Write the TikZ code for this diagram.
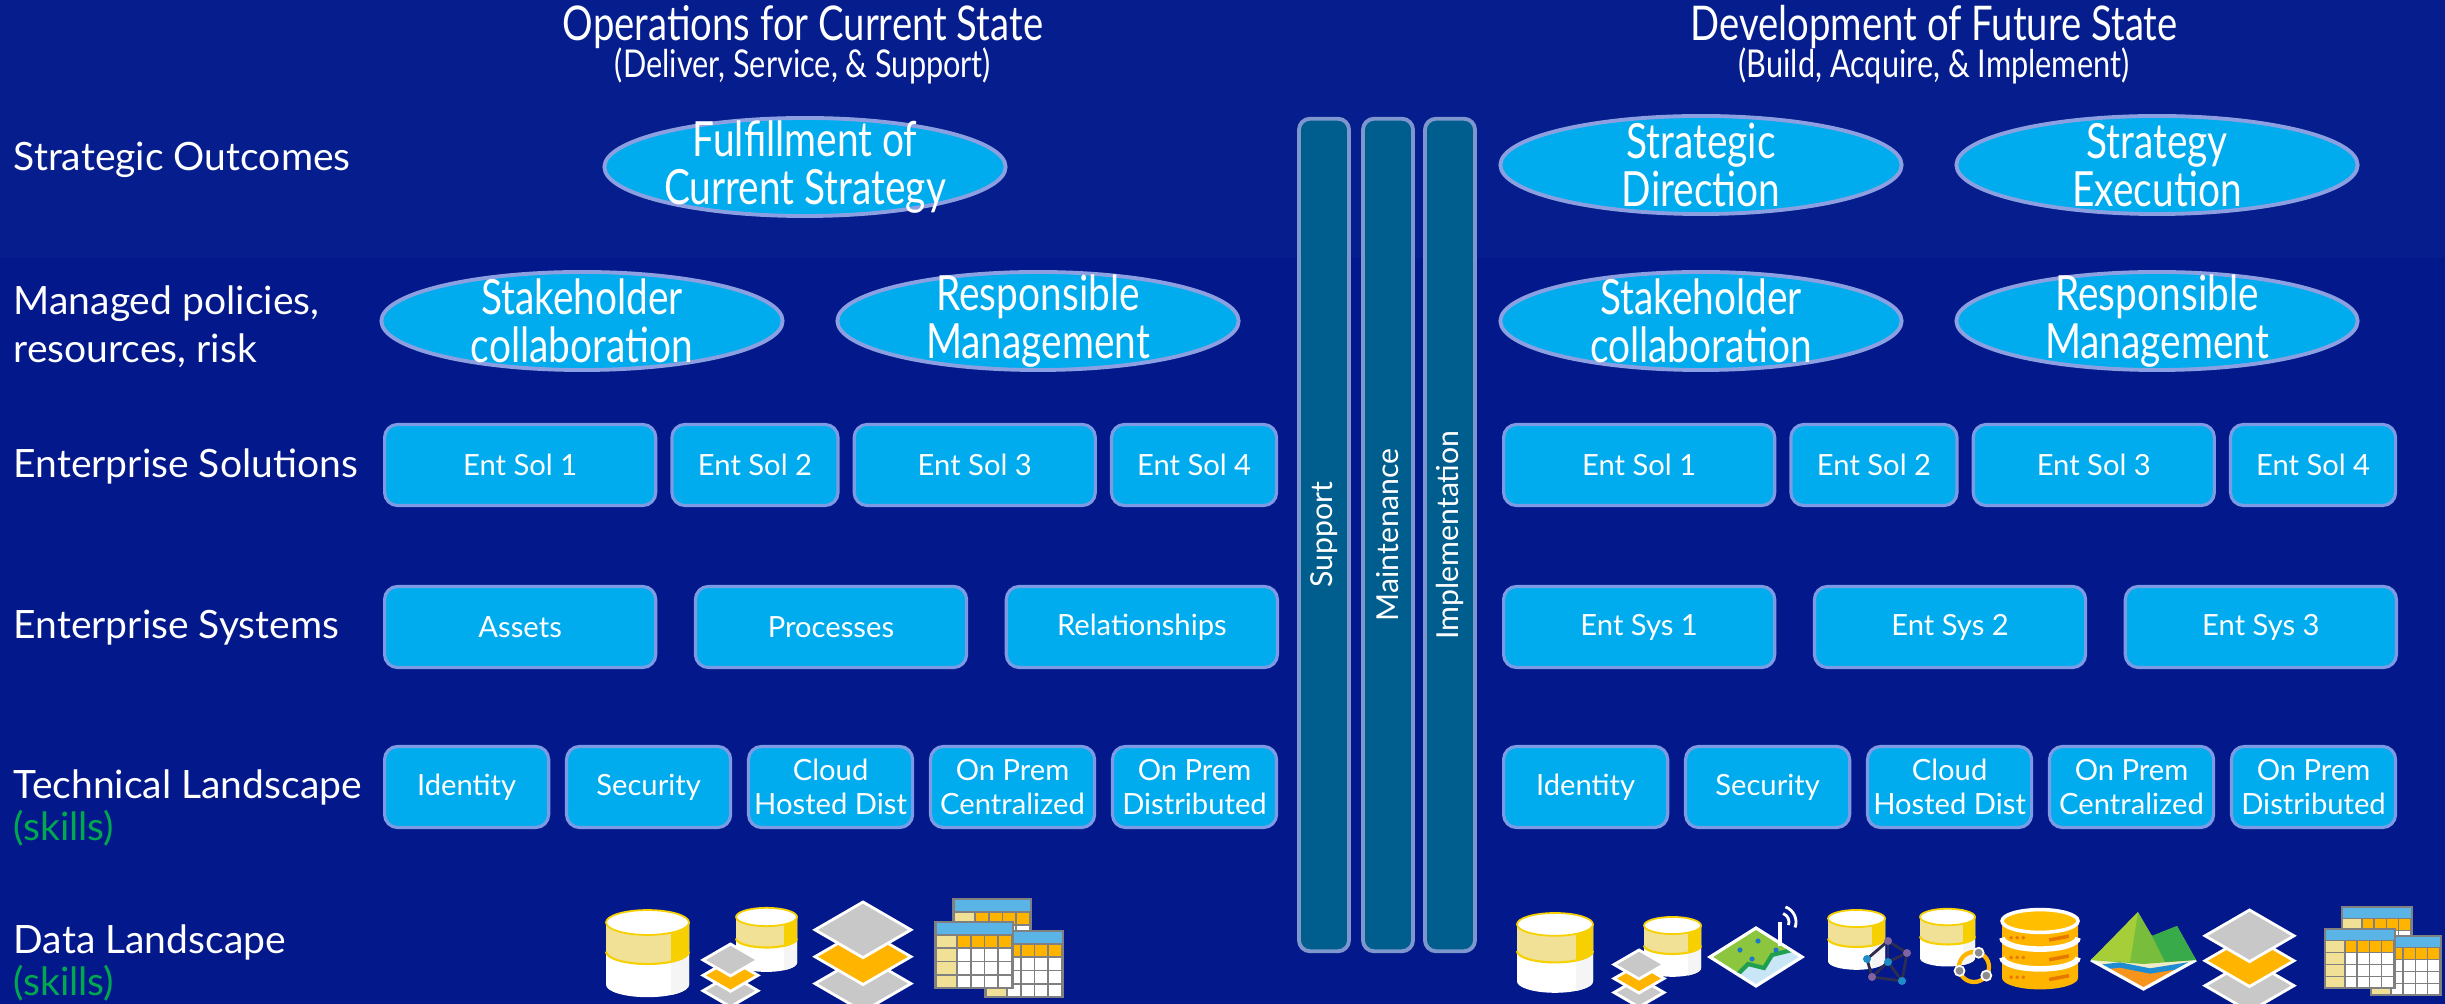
\documentclass[tikz,border=0pt]{standalone}
\usepackage{fontspec}
\setmainfont{Lato}
\newfontfamily\narrowfont[FakeStretch=0.8]{Lato}
\usetikzlibrary{shapes.geometric, positioning}

\definecolor{bgmain}{RGB}{3,24,138}
\definecolor{bgtop}{RGB}{5,29,141}
\definecolor{boxfill}{RGB}{0,172,238}
\definecolor{boxline}{RGB}{125,155,228}
\definecolor{goalline}{RGB}{140,160,225}
\definecolor{barfill}{RGB}{0,94,142}
\definecolor{barline}{RGB}{125,150,205}
\definecolor{skillgreen}{RGB}{0,168,80}
\definecolor{paleyellow}{RGB}{240,225,150}
\definecolor{goldyellow}{RGB}{246,208,0}
\definecolor{layergray}{RGB}{200,200,200}
\definecolor{layerorange}{RGB}{255,180,0}
\definecolor{sheetframe}{RGB}{128,128,128}
\definecolor{sheethead}{RGB}{90,180,230}
\definecolor{mapwater}{RGB}{200,230,245}
\definecolor{mapland}{RGB}{140,198,63}
\definecolor{roadgreen}{RGB}{30,160,80}
\definecolor{mapdot}{RGB}{30,120,200}
\definecolor{graphpurple}{RGB}{128,100,162}
\definecolor{graphblue}{RGB}{30,140,200}
\definecolor{graphline}{RGB}{45,45,80}
\definecolor{ringgray}{RGB}{140,140,140}
\definecolor{serverdark}{RGB}{230,120,0}
\definecolor{groundbeige}{RGB}{242,235,200}
\definecolor{groundorange}{RGB}{247,148,29}
\definecolor{riverblue}{RGB}{30,140,210}
\definecolor{mountlight}{RGB}{166,206,57}
\definecolor{mountmid}{RGB}{120,190,60}
\definecolor{mountdark}{RGB}{57,170,74}

% database drum: centre x, centre of top face y, scale
\newcommand{\drum}[3]{%
  \begin{scope}[shift={(#1,#2)}, scale=#3]
    \fill[white] (-50,0) -- (-50,75) arc[start angle=180, end angle=0, x radius=50, y radius=15] -- (50,0) -- cycle;
    \begin{scope}
      \clip (-50,0) -- (-50,75) arc[start angle=180, end angle=0, x radius=50, y radius=15] -- (50,0) -- cycle;
      \fill[gray!8] (28,0) rectangle (55,100);
    \end{scope}
    \begin{scope}
      \clip (-50,0) -- (-50,35) arc[start angle=180, end angle=0, x radius=50, y radius=15] -- (50,0) -- cycle;
      \fill[paleyellow] (-55,-20) rectangle (55,60);
      \fill[goldyellow] (28,-20) rectangle (55,60);
    \end{scope}
    \draw[goldyellow, line width=0.6pt] (-50,35) arc[start angle=180, end angle=0, x radius=50, y radius=15];
    \filldraw[fill=white, draw=goldyellow, line width=0.5pt] (0,0) ellipse[x radius=50, y radius=15];
  \end{scope}}

% stacked layers: centre x, top y, scale
\newcommand{\layers}[3]{%
  \begin{scope}[shift={(#1,#2)}, scale=#3]
    \foreach \dy/\col in {56/layergray, 28/layerorange, 0/layergray}
      \filldraw[fill=\col, draw=white, line width=0.8pt] (0,\dy) -- (50,\dy+29) -- (0,\dy+58) -- (-50,\dy+29) -- cycle;
  \end{scope}}

% spreadsheet page: left x, top y, scale
\newcommand{\sheet}[3]{%
  \begin{scope}[shift={(#1,#2)}, scale=#3]
    \fill[sheetframe] (0,0) rectangle (80,68);
    \fill[sheethead] (2.5,2.5) rectangle (77.5,13);
    \foreach \r in {0,...,3}
      \fill[paleyellow] (2.5,15+13.2*\r) rectangle (22,26.5+13.2*\r);
    \foreach \c in {0,...,3} {
      \fill[layerorange] (24+13.5*\c,15) rectangle (36+13.5*\c,26.5);
      \foreach \r in {1,...,3}
        \fill[white] (24+13.5*\c,15+13.2*\r) rectangle (36+13.5*\c,26.5+13.2*\r);
    }
  \end{scope}}

\begin{document}
\begin{tikzpicture}[x=0.01cm, y=-0.01cm]
  \tikzstyle{rowlabel} = [anchor=west, inner sep=0pt, align=left, text=white, font=\fontsize{11.1}{13.6}\selectfont]
  \tikzstyle{heading} = [inner sep=0pt, text=white, font=\narrowfont\fontsize{13.6}{13.6}\selectfont]
  \tikzstyle{subheading} = [inner sep=0pt, text=white, font=\narrowfont\fontsize{10.9}{12}\selectfont]
  \tikzstyle{goaltext} = [text=white, align=center, inner sep=0pt, font=\narrowfont\fontsize{13.8}{13.8}\selectfont]
  \tikzstyle{goal} = [ellipse, fill=boxfill, draw=goalline, line width=1.1pt, minimum width=4.01cm, minimum height=0.98cm, inner sep=0pt]
  \tikzstyle{block} = [rectangle, rounded corners=0.13cm, fill=boxfill, draw=boxline, line width=0.9pt, minimum height=0.81cm, inner sep=1pt, text=white, align=center, font=\fontsize{8.3}{9.6}\selectfont]
  \tikzstyle{lane} = [rectangle, rounded corners=0.11cm, fill=barfill, draw=barline, line width=1.1pt, minimum width=8.32cm, minimum height=0.5cm, inner sep=0pt, rotate=90, text=white, font=\fontsize{8.6}{10}\selectfont]

  % background with the lighter top band
  \fill[bgmain] (0,0) rectangle (2445,1004);
  \fill[bgtop] (0,0) rectangle (2445,258);
  \useasboundingbox (0,0) rectangle (2445,1004);

  \node (curtitle) [heading] at (803,27) {Operations for Current State};
  \node (cursub) [subheading] at (803,66) {(Deliver, Service, \& Support)};
  \node (futtitle) [heading] at (1934,27) {Development of Future State};
  \node (futsub) [subheading] at (1934,66) {(Build, Acquire, \& Implement)};

  \node (lblout) [rowlabel] at (13,160) {Strategic Outcomes};
  \node (lblpol) [rowlabel] at (13,327) {Managed policies,\\resources, risk};
  \node (lblsol) [rowlabel] at (13,466) {Enterprise Solutions};
  \node (lblsys) [rowlabel] at (13,628) {Enterprise Systems};
  \node (lbltech) [rowlabel] at (13,808) {Technical Landscape\\[-1.5pt]\textcolor{skillgreen}{(skills)}};
  \node (lbldata) [rowlabel] at (13,963) {Data Landscape\\[-1.5pt]\textcolor{skillgreen}{(skills)}};

  % outcomes and policies
  \node (curfulfil) [goal, label={[goaltext]center:Fulfillment of\\Current Strategy}] at (805,167) {};
  \node (curstake) [goal, label={[goaltext]center:Stakeholder\\collaboration}] at (582,321) {};
  \node (curresp) [goal, label={[goaltext]center:Responsible\\Management}] at (1038,321) {};
  \node (futdir) [goal, label={[goaltext]center:Strategic\\Direction}] at (1701,165) {};
  \node (futexec) [goal, label={[goaltext]center:Strategy\\Execution}] at (2157,165) {};
  \node (futstake) [goal, label={[goaltext]center:Stakeholder\\collaboration}] at (1701,321) {};
  \node (futresp) [goal, label={[goaltext]center:Responsible\\Management}] at (2157,321) {};

  % enterprise solutions
  \node (cursol1) [block, minimum width=2.71cm, anchor=west] at (383,465) {Ent Sol 1};
  \node (cursol2) [block, minimum width=1.66cm, right=0.13cm of cursol1] {Ent Sol 2};
  \node (cursol3) [block, minimum width=2.41cm, right=0.13cm of cursol2] {Ent Sol 3};
  \node (cursol4) [block, minimum width=1.65cm, right=0.13cm of cursol3] {Ent Sol 4};
  \node (futsol1) [block, minimum width=2.71cm, anchor=west] at (1502,465) {Ent Sol 1};
  \node (futsol2) [block, minimum width=1.66cm, right=0.13cm of futsol1] {Ent Sol 2};
  \node (futsol3) [block, minimum width=2.41cm, right=0.13cm of futsol2] {Ent Sol 3};
  \node (futsol4) [block, minimum width=1.65cm, right=0.13cm of futsol3] {Ent Sol 4};

  % enterprise systems
  \node (cursys1) [block, minimum width=2.71cm, anchor=west] at (383,627) {Assets};
  \node (cursys2) [block, minimum width=2.71cm, right=0.365cm of cursys1] {Processes};
  \node (cursys3) [block, minimum width=2.71cm, right=0.365cm of cursys2] {Relationships};
  \node (futsys1) [block, minimum width=2.71cm, anchor=west] at (1502,627) {Ent Sys 1};
  \node (futsys2) [block, minimum width=2.71cm, right=0.365cm of futsys1] {Ent Sys 2};
  \node (futsys3) [block, minimum width=2.71cm, right=0.365cm of futsys2] {Ent Sys 3};

  % technical landscape
  \node (curtech1) [block, minimum width=1.64cm, anchor=west] at (383,787) {Identity};
  \node (curtech2) [block, minimum width=1.64cm, right=0.147cm of curtech1] {Security};
  \node (curtech3) [block, minimum width=1.64cm, right=0.147cm of curtech2] {Cloud\\Hosted Dist};
  \node (curtech4) [block, minimum width=1.64cm, right=0.147cm of curtech3] {On Prem\\Centralized};
  \node (curtech5) [block, minimum width=1.64cm, right=0.147cm of curtech4] {On Prem\\Distributed};
  \node (futtech1) [block, minimum width=1.64cm, anchor=west] at (1502,787) {Identity};
  \node (futtech2) [block, minimum width=1.64cm, right=0.147cm of futtech1] {Security};
  \node (futtech3) [block, minimum width=1.64cm, right=0.147cm of futtech2] {Cloud\\Hosted Dist};
  \node (futtech4) [block, minimum width=1.64cm, right=0.147cm of futtech3] {On Prem\\Centralized};
  \node (futtech5) [block, minimum width=1.64cm, right=0.147cm of futtech4] {On Prem\\Distributed};

  % lifecycle lanes
  \node (support) [lane] at (1324,535) {Support};
  \node (maint) [lane] at (1388,535) {Maintenance};
  \node (impl) [lane] at (1450,535) {Implementation};

  % data icons, current side
  \drum{647.5}{922.5}{0.83}
  \drum{766.5}{917}{0.61}
  \layers{730.5}{944}{0.55}
  \layers{863}{902}{0.96}
  \sheet{952}{898}{1}
  \sheet{984}{930}{1}
  \sheet{934}{921}{1}

  % data icons, future side
  \drum{1555}{924.4}{0.76}
  \drum{1672.5}{925.5}{0.57}
  \layers{1639}{950}{0.5}

  \begin{scope}
    \clip (1710,957) -- (1756,928) -- (1802,957) -- (1756,986) -- cycle;
    \fill[mapwater] (1700,920) rectangle (1810,990);
    \fill[mapland] (1700,920) -- (1800,920) -- (1792,950) -- (1772,955) -- (1764,968) -- (1748,964) -- (1738,974) -- (1700,975) -- cycle;
    \draw[roadgreen, line width=1.2pt] (1792,950) -- (1772,955) -- (1764,968) -- (1748,964) -- (1738,974);
    \foreach \px/\py in {1740/950, 1758/941, 1776/950, 1752/959}
      \fill[mapdot] (\px,\py) circle[radius=2.6];
  \end{scope}
  \draw[white, line width=0.9pt] (1710,957) -- (1756,928) -- (1802,957) -- (1756,986) -- cycle;
  \draw[white, line width=0.9pt] (1780,946) -- (1780,922);
  \draw[white, line width=0.8pt] (1780,922) ++(-70:9) arc[start angle=-70, end angle=20, radius=9];
  \draw[white, line width=0.8pt] (1780,922) ++(-70:16) arc[start angle=-70, end angle=20, radius=16];

  \drum{1856.5}{918.5}{0.57}
  \foreach \ax/\ay/\bx/\by in {1888/941/1907/953, 1888/941/1867/959, 1888/941/1888/962, 1907/953/1888/962, 1907/953/1902/981, 1867/959/1872/977, 1888/962/1902/981, 1872/977/1902/981, 1888/962/1872/977}
    \draw[graphline, line width=0.8pt] (\ax,\ay) -- (\bx,\by);
  \foreach \px/\py/\col in {1888/941/graphpurple, 1907/953/graphpurple, 1867/959/graphblue, 1888/962/graphblue, 1872/977/graphpurple, 1902/981/graphblue}
    \fill[\col] (\px,\py) circle[radius=4];

  \drum{1947.5}{917}{0.55}
  \draw[layerorange, line width=1.2pt] (1974,967) circle[radius=15];
  \foreach \ang in {-72,165,35}
    \filldraw[fill=ringgray, draw=white, line width=0.5pt] (1974,967) ++(\ang:15) circle[radius=5];

  % orange server drum
  \begin{scope}[shift={(2040,921)}, scale=0.76]
    \fill[layerorange] (-50,0) -- (-50,75) arc[start angle=180, end angle=0, x radius=50, y radius=15] -- (50,0) -- cycle;
    \foreach \dy in {22,48}
      \draw[white, line width=1.6pt] (-50,\dy) arc[start angle=180, end angle=0, x radius=50, y radius=15];
    \foreach \dy in {8,34,60} {
      \foreach \dx in {-38,-30,-22}
        \fill[serverdark] (\dx,\dy+14) circle[radius=2.6];
      \draw[serverdark, line width=1pt] (12,\dy+17) -- (38,\dy+12);
    }
    \filldraw[fill=layerorange!85!yellow, draw=white, line width=1pt] (0,0) ellipse[x radius=50, y radius=15];
  \end{scope}

  % terrain tile
  \begin{scope}
    \clip (2091,960) -- (2143.5,931) -- (2196,960) -- (2143.5,989) -- cycle;
    \fill[groundbeige] (2085,925) rectangle (2200,995);
    \fill[groundorange] (2085,971) -- (2120,967) -- (2150,973) -- (2200,965) -- (2200,995) -- (2085,995) -- cycle;
    \draw[riverblue, line width=1.5pt] (2085,969) -- (2120,965) -- (2150,971) -- (2200,963);
  \end{scope}
  \draw[white, line width=0.9pt] (2091,960) -- (2143.5,989) -- (2196,960);
  \fill[mountmid] (2091,960) -- (2138,912) -- (2152,936) -- (2177,926) -- (2196,960) -- (2143.5,964) -- cycle;
  \fill[mountlight] (2091,960) -- (2138,912) -- (2130,962) -- cycle;
  \fill[mountdark] (2152,936) -- (2177,926) -- (2196,960) -- (2165,962) -- cycle;

  \layers{2249.5}{910}{0.89}
  \sheet{2341}{906}{0.9}
  \sheet{2370}{935}{0.9}
  \sheet{2324}{928}{0.9}
\end{tikzpicture}
\end{document}
